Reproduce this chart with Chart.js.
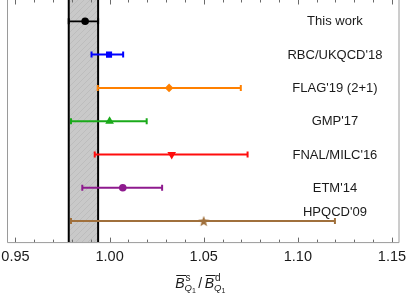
<!DOCTYPE html>
<html><head><meta charset="utf-8">
<script src="https://cdn.jsdelivr.net/npm/chart.js@4.4.0/dist/chart.umd.min.js"></script>
<style>html,body{margin:0;padding:0;background:#fff;}#wrap{width:407px;height:294px;}</style>
</head><body><div id="wrap"><canvas id="c" width="407" height="294"></canvas></div>
<script>
// ---- data ----
const seriesLabels = ["This work", "RBC/UKQCD'18", "FLAG'19 (2+1)", "GMP'17", "FNAL/MILC'16", "ETM'14", "HPQCD'09"];
const rows = [7, 6, 5, 4, 3, 2, 1];
const centralValues = [0.987, 0.9997, 1.0316, 1.000, 1.033, 1.007, 1.050];
const lowerValues = [0.9783, 0.9904, 0.9937, 0.9795, 0.9921, 0.9855, 0.9795];
const upperValues = [0.9939, 1.0072, 1.0697, 1.0197, 1.0733, 1.0279, 1.1197];
const labelRows = [7, 6, 5, 4, 3, 2, 1.27];
const labelXValue = 1.1197;
const bandRange = [0.9783, 0.9939];
const xTickLabels = [0.95, 1.00, 1.05, 1.10, 1.15];
const xMinorTicks = [0.95, 0.96, 0.97, 0.98, 0.99, 1.00, 1.01, 1.02, 1.03, 1.04, 1.05, 1.06, 1.07, 1.08, 1.09, 1.10, 1.11, 1.12, 1.13, 1.14, 1.15];
const xRange = [0.9455, 1.154];
const yRange = [0.368, 7.64];

// ---- styles ----
const colors = ['#000000', '#0000ff', '#ff8000', '#1aaa1a', '#ff0d0d', '#8e1a8e', '#a0703c'];
const lineWidths = [1.8, 2, 2, 2, 2, 2, 2];

function makeStar(color) {
  const c = document.createElement('canvas');
  c.width = 12; c.height = 12;
  const g = c.getContext('2d');
  g.fillStyle = color;
  g.beginPath();
  for (let i = 0; i < 10; i++) {
    const r = i % 2 === 0 ? 5.8 : 2.4;
    const a = -Math.PI / 2 + i * Math.PI / 5;
    const px = 6 + r * Math.cos(a), py = 6.5 + r * Math.sin(a);
    if (i === 0) g.moveTo(px, py); else g.lineTo(px, py);
  }
  g.closePath(); g.fill();
  return c;
}
const markerStyles = ['circle', 'rect', 'rectRot', 'triangle', 'triangle', 'circle', makeStar('#a0703c')];
const markerRadius = [3.8, 4.3, 4.3, 5, 5, 3.8, 6];
const markerRotation = [0, 0, 0, 0, 180, 0, 0];

function makeHatch() {
  const c = document.createElement('canvas');
  c.width = 6; c.height = 6;
  const g = c.getContext('2d');
  g.fillStyle = '#c9c9c9'; g.fillRect(0, 0, 6, 6);
  g.strokeStyle = '#bdbdbd'; g.lineWidth = 1;
  g.beginPath(); g.moveTo(0, 6); g.lineTo(6, 0); g.stroke();
  return g.createPattern(c, 'repeat');
}

const datasets = [];
// band
datasets.push({
  type: 'line', order: 20,
  data: [{x: bandRange[0], y: yRange[0]}, {x: bandRange[0], y: yRange[1]}, {x: bandRange[1], y: yRange[1]}, {x: bandRange[1], y: yRange[0]}],
  fill: {value: yRange[0]}, backgroundColor: makeHatch(), borderWidth: 0, pointRadius: 0
});
bandRange.forEach(v => datasets.push({
  type: 'line', order: 19,
  data: [{x: v, y: yRange[0]}, {x: v, y: yRange[1]}],
  borderColor: '#000', borderWidth: 2, pointRadius: 0, fill: false
}));
// error bars
rows.forEach((r, i) => datasets.push({
  type: 'line', order: 10,
  data: [{x: lowerValues[i], y: r}, {x: upperValues[i], y: r}],
  borderColor: colors[i], borderWidth: lineWidths[i], fill: false,
  pointStyle: 'line', pointRotation: 90, pointRadius: 3, pointBorderWidth: 2,
  pointBorderColor: colors[i], pointBackgroundColor: colors[i]
}));
// markers
rows.forEach((r, i) => datasets.push({
  type: 'scatter', order: 1,
  data: [{x: centralValues[i], y: r}],
  pointStyle: markerStyles[i], pointRadius: markerRadius[i], pointRotation: markerRotation[i],
  backgroundColor: colors[i], borderColor: colors[i], borderWidth: 0
}));

const decor = {
  id: 'decor',
  afterDraw(chart) {
    const ctx = chart.ctx, a = chart.chartArea, xs = chart.scales.x, ys = chart.scales.y;
    ctx.save();
    // frame
    ctx.strokeStyle = '#9a9a9a'; ctx.lineWidth = 1;
    ctx.beginPath();
    ctx.moveTo(a.left + 0.5, a.top); ctx.lineTo(a.left + 0.5, a.bottom + 0.5);
    ctx.lineTo(a.right - 0.5, a.bottom + 0.5); ctx.lineTo(a.right - 0.5, a.top);
    ctx.stroke();
    // ticks
    ctx.strokeStyle = '#6a6a6a';
    xMinorTicks.forEach(v => {
      const major = xTickLabels.some(t => Math.abs(t - v) < 1e-6);
      const len = major ? 4.5 : 2.5;
      const px = Math.round(xs.getPixelForValue(v)) + 0.5;
      ctx.beginPath();
      ctx.moveTo(px, a.bottom); ctx.lineTo(px, a.bottom - len);
      ctx.moveTo(px, a.top); ctx.lineTo(px, a.top + len);
      ctx.stroke();
    });
    // series labels
    ctx.fillStyle = '#1a1a1a';
    ctx.font = '13px "Liberation Sans", Arial, sans-serif';
    ctx.textAlign = 'center'; ctx.textBaseline = 'middle';
    seriesLabels.forEach((t, i) => ctx.fillText(t, xs.getPixelForValue(labelXValue), ys.getPixelForValue(labelRows[i]) + 0.5));
    // axis title  B̄^s_{Q1} / B̄^d_{Q1}
    const yb = 288;
    let x = (a.left + a.right) / 2 - 28;
    ctx.textAlign = 'left'; ctx.textBaseline = 'alphabetic';
    ctx.strokeStyle = '#1a1a1a'; ctx.lineWidth = 1;
    function group(sup) {
      ctx.font = 'italic 14px "Liberation Sans", Arial, sans-serif';
      const wB = ctx.measureText('B').width;
      ctx.fillText('B', x, yb);
      ctx.beginPath(); ctx.moveTo(x + 1, yb - 12.5); ctx.lineTo(x + wB + 1.5, yb - 12.5); ctx.stroke();
      const sx = x + wB + 1;
      ctx.font = '10px "Liberation Sans", Arial, sans-serif';
      ctx.fillText(sup, sx, yb - 7);
      ctx.font = 'italic 9.5px "Liberation Sans", Arial, sans-serif';
      ctx.fillText('Q', sx - 1, yb + 2.5);
      const wQ = ctx.measureText('Q').width;
      ctx.font = '7px "Liberation Sans", Arial, sans-serif';
      ctx.fillText('1', sx - 1 + wQ, yb + 4.5);
      x = sx - 1 + wQ + ctx.measureText('1').width;
    }
    group('s');
    ctx.font = '14px "Liberation Sans", Arial, sans-serif';
    x += 2.5;
    ctx.fillText('/', x, yb);
    x += ctx.measureText('/').width + 2.5;
    group('d');
    ctx.restore();
  }
};

new Chart(document.getElementById('c'), {
  type: 'scatter',
  data: {datasets},
  plugins: [decor],
  options: {
    responsive: false, animation: false,
    layout: {autoPadding: false, padding: {left: 7, right: 7.5, top: 0, bottom: 22.5}},
    plugins: {legend: {display: false}, tooltip: {enabled: false}},
    scales: {
      x: {
        type: 'linear', min: xRange[0], max: xRange[1],
        afterBuildTicks: s => { s.ticks = xTickLabels.map(v => ({value: v})); },
        afterFit: s => { s.paddingLeft = 0; s.paddingRight = 0; s.paddingTop = 0; s.paddingBottom = 0; },
        grid: {display: false, drawTicks: false}, border: {display: false},
        ticks: {padding: 6, color: '#1a1a1a', font: {family: '"Liberation Sans", Arial, sans-serif', size: 14.5},
          callback: v => Number(v).toFixed(2), maxRotation: 0, autoSkip: false}
      },
      y: {type: 'linear', min: yRange[0], max: yRange[1], display: false}
    }
  }
});
</script>
</body></html>
